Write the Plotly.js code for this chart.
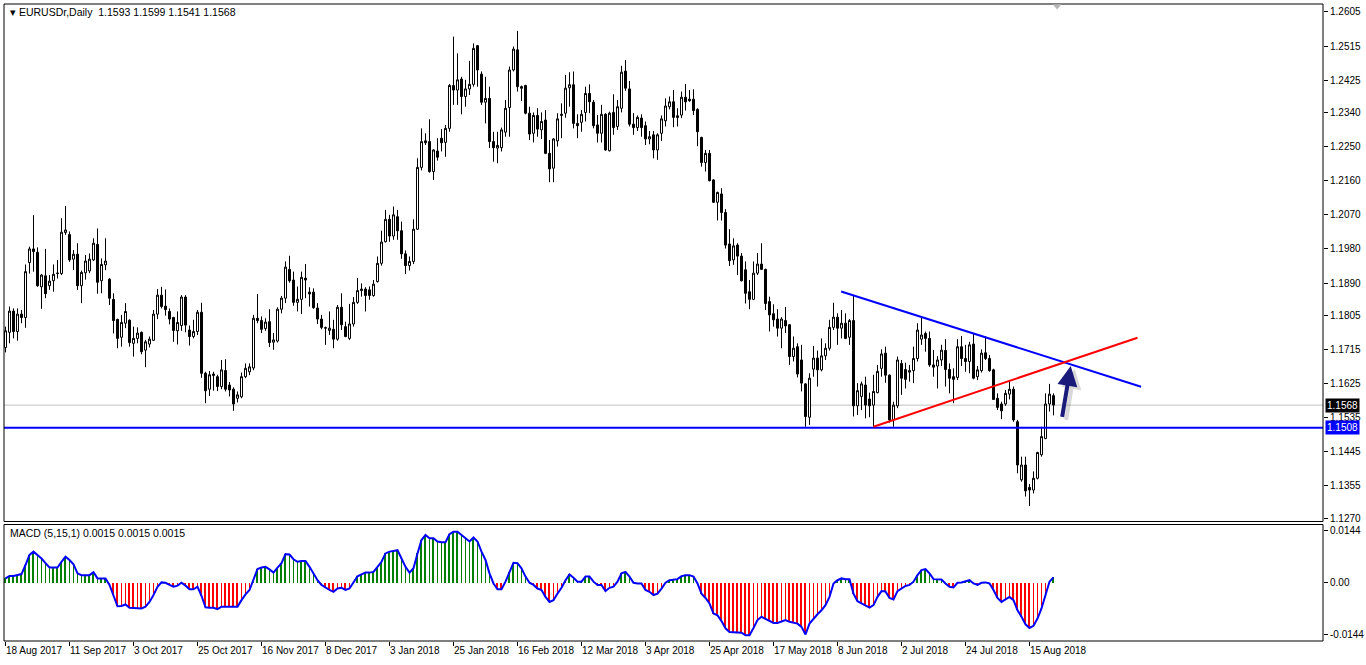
<!DOCTYPE html>
<html>
<head>
<meta charset="utf-8">
<script src="https://cdn.plot.ly/plotly-3.0.1.min.js"></script>
<style>html,body{margin:0;padding:0;background:#fff;}#chart{width:1366px;height:665px;}</style>
</head>
<body>
<div id="chart"></div>
<script>
// Daily EURUSD bars, 18 Aug 2017 .. 23 Aug 2018 (one entry per trading day)
const opens = [1.1720,1.1760,1.1816,1.1762,1.1808,1.1799,1.1944,1.1980,1.1971,1.1880,1.1909,1.1883,1.1896,1.1915,1.1915,1.2023,1.2018,1.1953,1.1966,1.1883,1.1917,1.1922,1.1951,1.1992,1.1896,1.1938,1.1900,1.1847,1.1794,1.1747,1.1784,1.1792,1.1731,1.1744,1.1760,1.1713,1.1729,1.1739,1.1808,1.1858,1.1829,1.1815,1.1799,1.1764,1.1778,1.1853,1.1766,1.1749,1.1762,1.1813,1.1652,1.1610,1.1646,1.1643,1.1617,1.1659,1.1621,1.1610,1.1586,1.1590,1.1643,1.1656,1.1666,1.1797,1.1791,1.1770,1.1788,1.1734,1.1737,1.1821,1.1850,1.1926,1.1898,1.1839,1.1847,1.1903,1.1866,1.1866,1.1824,1.1795,1.1771,1.1765,1.1768,1.1742,1.1826,1.1775,1.1744,1.1782,1.1839,1.1870,1.1874,1.1872,1.1857,1.1894,1.1942,1.1999,1.2058,1.2014,1.2065,1.2028,1.1967,1.1936,1.1947,1.2032,1.2195,1.2265,1.2263,1.2184,1.2238,1.2272,1.2261,1.2298,1.2411,1.2399,1.2428,1.2382,1.2402,1.2414,1.2516,1.2441,1.2367,1.2377,1.2263,1.2246,1.2247,1.2288,1.2353,1.2452,1.2505,1.2408,1.2411,1.2338,1.2285,1.2332,1.2294,1.2320,1.2232,1.2193,1.2265,1.2332,1.2338,1.2405,1.2413,1.2311,1.2314,1.2340,1.2390,1.2367,1.2307,1.2285,1.2335,1.2239,1.2340,1.2303,1.2351,1.2449,1.2402,1.2309,1.2300,1.2325,1.2305,1.2270,1.2281,1.2241,1.2285,1.2318,1.2355,1.2368,1.2331,1.2333,1.2380,1.2375,1.2375,1.2348,1.2274,1.2208,1.2232,1.2162,1.2103,1.2125,1.2076,1.1993,1.1951,1.1990,1.1961,1.1925,1.1867,1.1847,1.1916,1.1940,1.1926,1.1841,1.1809,1.1795,1.1771,1.1791,1.1780,1.1696,1.1722,1.1687,1.1624,1.1536,1.1663,1.1692,1.1661,1.1698,1.1718,1.1773,1.1800,1.1771,1.1784,1.1747,1.1791,1.1566,1.1591,1.1621,1.1584,1.1568,1.1601,1.1665,1.1705,1.1647,1.1529,1.1566,1.1678,1.1662,1.1655,1.1659,1.1691,1.1742,1.1757,1.1744,1.1674,1.1671,1.1687,1.1712,1.1662,1.1643,1.1641,1.1722,1.1691,1.1683,1.1729,1.1643,1.1659,1.1706,1.1691,1.1661,1.1586,1.1571,1.1571,1.1597,1.1610,1.1524,1.1371,1.1410,1.1351,1.1344,1.1375,1.1437,1.1480,1.1571,1.1593];
const highs = [1.1775,1.1828,1.1823,1.1823,1.1819,1.1939,1.1986,1.2069,1.1984,1.1914,1.1980,1.1911,1.1939,1.1951,1.2061,1.2093,1.2026,1.1977,1.1995,1.1923,1.1964,1.1968,1.2008,1.2034,1.1955,1.2008,1.1903,1.1863,1.1796,1.1806,1.1837,1.1794,1.1775,1.1773,1.1762,1.1740,1.1749,1.1819,1.1874,1.1880,1.1873,1.1823,1.1801,1.1815,1.1858,1.1858,1.1778,1.1793,1.1819,1.1838,1.1656,1.1658,1.1656,1.1648,1.1687,1.1689,1.1629,1.1615,1.1604,1.1654,1.1678,1.1678,1.1806,1.1861,1.1802,1.1797,1.1821,1.1758,1.1826,1.1856,1.1947,1.1962,1.1920,1.1881,1.1920,1.1940,1.1879,1.1876,1.1837,1.1806,1.1775,1.1815,1.1793,1.1832,1.1863,1.1788,1.1835,1.1853,1.1903,1.1889,1.1879,1.1881,1.1898,1.1960,1.2028,1.2083,1.2070,1.2092,1.2083,1.2052,1.1976,1.1960,1.2058,1.2219,1.2298,1.2285,1.2322,1.2243,1.2272,1.2296,1.2307,1.2415,1.2540,1.2496,1.2434,1.2426,1.2476,1.2522,1.2518,1.2448,1.2434,1.2408,1.2289,1.2289,1.2300,1.2373,1.2461,1.2514,1.2555,1.2411,1.2413,1.2355,1.2340,1.2351,1.2340,1.2346,1.2267,1.2272,1.2338,1.2364,1.2439,1.2446,1.2448,1.2335,1.2346,1.2408,1.2414,1.2373,1.2333,1.2360,1.2338,1.2342,1.2388,1.2373,1.2463,1.2478,1.2423,1.2338,1.2332,1.2335,1.2316,1.2291,1.2291,1.2285,1.2332,1.2377,1.2382,1.2399,1.2351,1.2395,1.2415,1.2399,1.2401,1.2351,1.2276,1.2241,1.2241,1.2164,1.2131,1.2140,1.2085,1.2032,1.2008,1.1995,1.1969,1.1947,1.1898,1.1947,1.1969,1.1995,1.1928,1.1854,1.1834,1.1821,1.1800,1.1827,1.1782,1.1749,1.1731,1.1727,1.1626,1.1652,1.1724,1.1712,1.1744,1.1731,1.1793,1.1838,1.1810,1.1819,1.1810,1.1795,1.1856,1.1626,1.1630,1.1643,1.1601,1.1648,1.1674,1.1715,1.1722,1.1649,1.1577,1.1696,1.1687,1.1680,1.1674,1.1722,1.1784,1.1801,1.1762,1.1762,1.1713,1.1697,1.1727,1.1742,1.1678,1.1665,1.1742,1.1750,1.1727,1.1735,1.1757,1.1671,1.1715,1.1749,1.1700,1.1664,1.1599,1.1577,1.1608,1.1634,1.1617,1.1529,1.1432,1.1432,1.1360,1.1393,1.1445,1.1511,1.1599,1.1624,1.1599];
const lows = [1.1707,1.1731,1.1744,1.1738,1.1784,1.1772,1.1915,1.1920,1.1880,1.1822,1.1850,1.1872,1.1867,1.1902,1.1911,1.2017,1.1946,1.1924,1.1872,1.1837,1.1899,1.1916,1.1948,1.1862,1.1863,1.1924,1.1832,1.1757,1.1718,1.1722,1.1771,1.1722,1.1696,1.1731,1.1702,1.1668,1.1720,1.1737,1.1795,1.1823,1.1804,1.1781,1.1735,1.1728,1.1764,1.1760,1.1725,1.1744,1.1753,1.1640,1.1573,1.1592,1.1606,1.1605,1.1610,1.1604,1.1591,1.1553,1.1575,1.1586,1.1639,1.1647,1.1660,1.1784,1.1758,1.1764,1.1721,1.1714,1.1733,1.1810,1.1837,1.1891,1.1830,1.1815,1.1808,1.1850,1.1828,1.1822,1.1782,1.1768,1.1727,1.1753,1.1718,1.1738,1.1766,1.1747,1.1740,1.1775,1.1835,1.1854,1.1815,1.1846,1.1854,1.1891,1.1936,1.1997,1.1999,1.2004,1.2004,1.1954,1.1914,1.1923,1.1940,1.2030,1.2187,1.2254,1.2181,1.2162,1.2213,1.2237,1.2223,1.2289,1.2360,1.2360,1.2335,1.2355,1.2386,1.2408,1.2408,1.2360,1.2311,1.2246,1.2210,1.2206,1.2237,1.2276,1.2276,1.2448,1.2395,1.2370,1.2335,1.2267,1.2261,1.2276,1.2270,1.2230,1.2156,1.2156,1.2250,1.2272,1.2326,1.2355,1.2298,1.2272,1.2289,1.2316,1.2338,1.2298,1.2261,1.2261,1.2239,1.2237,1.2281,1.2294,1.2340,1.2397,1.2303,1.2281,1.2291,1.2276,1.2254,1.2256,1.2219,1.2215,1.2265,1.2303,1.2348,1.2301,1.2303,1.2325,1.2345,1.2368,1.2333,1.2251,1.2197,1.2184,1.2158,1.2101,1.2055,1.2055,1.1981,1.1935,1.1938,1.1911,1.1894,1.1836,1.1821,1.1845,1.1911,1.1925,1.1819,1.1762,1.1775,1.1749,1.1718,1.1758,1.1674,1.1683,1.1641,1.1604,1.1511,1.1516,1.1643,1.1617,1.1657,1.1687,1.1712,1.1766,1.1727,1.1744,1.1742,1.1727,1.1538,1.1542,1.1555,1.1533,1.1536,1.1511,1.1599,1.1643,1.1627,1.1522,1.1511,1.1560,1.1595,1.1612,1.1630,1.1626,1.1683,1.1727,1.1709,1.1669,1.1643,1.1612,1.1671,1.1617,1.1599,1.1573,1.1634,1.1671,1.1656,1.1652,1.1636,1.1634,1.1654,1.1687,1.1656,1.1582,1.1555,1.1531,1.1566,1.1583,1.1524,1.1388,1.1366,1.1327,1.1302,1.1335,1.1372,1.1432,1.1478,1.1551,1.1541];
const closes = [1.1764,1.1816,1.1762,1.1808,1.1799,1.1920,1.1980,1.1973,1.1883,1.1911,1.1862,1.1895,1.1913,1.1916,1.2024,1.2030,1.1951,1.1966,1.1883,1.1918,1.1948,1.1953,1.1995,1.1892,1.1939,1.1948,1.1850,1.1791,1.1744,1.1786,1.1815,1.1733,1.1744,1.1758,1.1709,1.1735,1.1742,1.1808,1.1858,1.1828,1.1820,1.1795,1.1765,1.1786,1.1853,1.1779,1.1749,1.1762,1.1813,1.1652,1.1606,1.1648,1.1650,1.1617,1.1661,1.1610,1.1608,1.1571,1.1595,1.1643,1.1665,1.1669,1.1797,1.1791,1.1768,1.1787,1.1733,1.1740,1.1821,1.1850,1.1932,1.1896,1.1839,1.1847,1.1905,1.1898,1.1861,1.1825,1.1795,1.1773,1.1772,1.1771,1.1742,1.1826,1.1780,1.1749,1.1782,1.1839,1.1870,1.1874,1.1857,1.1857,1.1887,1.1942,1.1998,1.2058,1.2014,1.2070,1.2028,1.1967,1.1936,1.1947,1.2032,1.2195,1.2263,1.2260,1.2184,1.2241,1.2222,1.2260,1.2298,1.2411,1.2399,1.2426,1.2382,1.2402,1.2414,1.2509,1.2452,1.2367,1.2377,1.2263,1.2247,1.2253,1.2294,1.2351,1.2452,1.2507,1.2408,1.2404,1.2338,1.2283,1.2332,1.2296,1.2316,1.2232,1.2191,1.2270,1.2323,1.2335,1.2404,1.2413,1.2311,1.2305,1.2335,1.2390,1.2368,1.2305,1.2285,1.2335,1.2241,1.2338,1.2300,1.2355,1.2446,1.2404,1.2309,1.2300,1.2327,1.2300,1.2270,1.2276,1.2241,1.2281,1.2323,1.2357,1.2368,1.2327,1.2327,1.2380,1.2368,1.2371,1.2345,1.2289,1.2208,1.2232,1.2160,1.2103,1.2129,1.2076,1.1990,1.1949,1.1988,1.1961,1.1896,1.1863,1.1847,1.1916,1.1940,1.1926,1.1836,1.1806,1.1793,1.1771,1.1795,1.1777,1.1696,1.1718,1.1650,1.1626,1.1538,1.1639,1.1692,1.1661,1.1698,1.1718,1.1773,1.1800,1.1771,1.1784,1.1744,1.1791,1.1566,1.1606,1.1624,1.1568,1.1566,1.1604,1.1657,1.1703,1.1647,1.1529,1.1568,1.1687,1.1639,1.1636,1.1659,1.1691,1.1766,1.1753,1.1744,1.1674,1.1668,1.1687,1.1713,1.1662,1.1639,1.1636,1.1722,1.1691,1.1683,1.1727,1.1639,1.1661,1.1705,1.1691,1.1659,1.1583,1.1562,1.1553,1.1599,1.1610,1.1529,1.1410,1.1410,1.1342,1.1344,1.1375,1.1443,1.1485,1.1571,1.1597,1.1568];
// MACD (5,15,1) histogram value per bar
const macd = [0.0012,0.0019,0.0019,0.0021,0.0024,0.0049,0.0077,0.0086,0.0077,0.0067,0.0054,
0.0042,0.0042,0.0042,0.0058,0.0072,0.0063,0.0051,0.0026,0.0021,0.0021,
0.0021,0.0029,0.0012,0.0012,0.0012,-0.0006,-0.0034,-0.0065,-0.0064,-0.0060,
-0.0069,-0.0070,-0.0069,-0.0071,-0.0066,-0.0053,-0.0034,-0.0011,0.0001,0.0000,
-0.0006,-0.0011,-0.0008,0.0000,-0.0008,-0.0018,-0.0018,-0.0011,-0.0036,-0.0068,
-0.0069,-0.0069,-0.0073,-0.0066,-0.0066,-0.0066,-0.0066,-0.0066,-0.0048,-0.0032,
-0.0020,0.0012,0.0038,0.0042,0.0044,0.0037,0.0028,0.0042,0.0054,0.0079,
0.0078,0.0065,0.0058,0.0060,0.0060,0.0044,0.0026,0.0007,-0.0006,-0.0014,
-0.0020,-0.0025,-0.0016,-0.0014,-0.0020,-0.0016,0.0003,0.0018,0.0023,0.0028,
0.0028,0.0030,0.0044,0.0058,0.0081,0.0086,0.0088,0.0090,0.0067,0.0044,
0.0028,0.0040,0.0081,0.0118,0.0132,0.0123,0.0123,0.0114,0.0112,0.0112,
0.0134,0.0141,0.0141,0.0132,0.0123,0.0114,0.0125,0.0114,0.0086,0.0063,
0.0026,-0.0002,-0.0018,-0.0018,0.0003,0.0030,0.0055,0.0054,0.0040,0.0017,
0.0000,-0.0006,-0.0016,-0.0020,-0.0039,-0.0053,-0.0048,-0.0030,-0.0014,0.0007,
0.0023,0.0014,0.0003,0.0003,0.0017,0.0017,0.0003,-0.0006,-0.0006,-0.0023,
-0.0014,-0.0011,0.0003,0.0026,0.0030,0.0017,0.0000,-0.0002,-0.0002,-0.0020,
-0.0025,-0.0034,-0.0030,-0.0016,0.0000,0.0007,0.0009,0.0010,0.0018,0.0021,
0.0021,0.0017,-0.0002,-0.0030,-0.0042,-0.0057,-0.0085,-0.0090,-0.0106,-0.0126,
-0.0136,-0.0136,-0.0136,-0.0138,-0.0145,-0.0145,-0.0125,-0.0103,-0.0094,-0.0099,
-0.0106,-0.0111,-0.0111,-0.0106,-0.0103,-0.0108,-0.0111,-0.0113,-0.0122,-0.0143,
-0.0113,-0.0099,-0.0087,-0.0076,-0.0062,-0.0039,-0.0002,0.0007,0.0012,0.0010,
0.0010,-0.0030,-0.0051,-0.0057,-0.0062,-0.0069,-0.0062,-0.0039,-0.0023,-0.0024,
-0.0042,-0.0046,-0.0023,-0.0016,-0.0009,-0.0006,0.0003,0.0021,0.0035,0.0038,
0.0026,0.0010,0.0010,0.0009,-0.0002,-0.0011,-0.0013,0.0000,0.0001,0.0003,
0.0007,-0.0002,-0.0006,0.0000,0.0001,-0.0002,-0.0020,-0.0042,-0.0053,-0.0046,
-0.0039,-0.0048,-0.0076,-0.0094,-0.0115,-0.0125,-0.0119,-0.0099,-0.0071,-0.0034,0.0003,0.0015];
// date labels, one every 16 bars
const dateLabels = ['18 Aug 2017','11 Sep 2017','3 Oct 2017','25 Oct 2017','16 Nov 2017','8 Dec 2017','3 Jan 2018','25 Jan 2018','16 Feb 2018','12 Mar 2018','3 Apr 2018','25 Apr 2018','17 May 2018','8 Jun 2018','2 Jul 2018','24 Jul 2018','15 Aug 2018'];
const priceTicks = [1.2605,1.2515,1.2425,1.2340,1.2250,1.2160,1.2070,1.1980,1.1890,1.1805,1.1715,1.1625,1.1535,1.1445,1.1355,1.1270];
const macdTicks = [0.0144,0,-0.0144];
const macdTickText = ['0.0144','0.00','-0.0144'];
// drawn objects (bar index, price)
const supportLevel = 1.1508;
const bidLevel = 1.1568;
const upperTrend = [[208.9,1.18677],[283.9,1.16165]];
const lowerTrend = [[217.0,1.15110],[283.0,1.17458]];
const arrowPts = [[264.1,1.15332],[266.3,1.16712]];

const idx = closes.map((_, i) => i);
const FONT = 'Liberation Sans, Arial, sans-serif';

const barColors = macd.map(v => v >= 0 ? '#008000' : '#FF0000');
const isThick = macd.map((v, i) => i === 0 || Math.abs(v) >= Math.abs(macd[i-1]));
const barWidths = isThick.map(t => t ? 0.5 : 0.25);
const barOffsets = isThick.map(t => t ? -0.375 : -0.125);

const traces = [
  {type:'candlestick', x:idx, open:opens, high:highs, low:lows, close:closes,
   xaxis:'x', yaxis:'y', hoverinfo:'skip', whiskerwidth:0,
   increasing:{line:{color:'#000000', width:1}, fillcolor:'#FFFFFF'},
   decreasing:{line:{color:'#000000', width:1}, fillcolor:'#000000'}},
  {type:'bar', x:idx, y:macd, width:barWidths, offset:barOffsets, marker:{color:barColors, line:{width:0}},
   xaxis:'x', yaxis:'y2', hoverinfo:'skip'},
  {type:'scatter', mode:'lines', x:idx, y:macd, line:{color:'#0000FF', width:2},
   xaxis:'x', yaxis:'y2', hoverinfo:'skip'}
];

const mainBot = 521.5, subTop = 524.5, plotBot = 641, H = 637, W = 1319;
const py = p => 1 - (p - 4) / H;   // pixel row -> paper y
const px = p => (p - 4) / W;       // pixel col -> paper x

const shapes = [
  {type:'line', xref:'paper', x0:0, x1:1, yref:'y', y0:bidLevel, y1:bidLevel, line:{color:'#C0C0C0', width:1}, layer:'below'},
  {type:'line', xref:'paper', x0:0, x1:1, yref:'y', y0:supportLevel, y1:supportLevel, line:{color:'#0000FF', width:2}},
  {type:'line', xref:'x', yref:'y', x0:upperTrend[0][0], y0:upperTrend[0][1], x1:upperTrend[1][0], y1:upperTrend[1][1], line:{color:'#0000FF', width:2}},
  {type:'line', xref:'x', yref:'y', x0:lowerTrend[0][0], y0:lowerTrend[0][1], x1:lowerTrend[1][0], y1:lowerTrend[1][1], line:{color:'#FF0000', width:2}},
  {type:'rect', xref:'paper', yref:'y domain', x0:0, x1:1, y0:0, y1:1, line:{color:'#000', width:1}},
  {type:'rect', xref:'paper', yref:'y2 domain', x0:0, x1:1, y0:0, y1:1, line:{color:'#000', width:1}},
  {type:'path', xref:'x', yref:'paper', path:'M 261.8 0.9995 L 264.0 0.9995 L 262.9 0.9915 Z', fillcolor:'#B4B4B4', line:{width:0}}
];

const labelFont = {family:FONT, size:10.5, color:'#000'};
const annotations = [
  {xref:'paper', yref:'paper', x:px(8), y:py(12), xanchor:'left', yanchor:'middle', showarrow:false,
   text:'▾ EURUSDr,Daily  1.1593 1.1599 1.1541 1.1568', font:labelFont},
  {xref:'paper', yref:'paper', x:px(8), y:py(533), xanchor:'left', yanchor:'middle', showarrow:false,
   text:'MACD (5,15,1) 0.0015 0.0015 0.0015', font:labelFont},
  {xref:'paper', yref:'y', x:1, xshift:2, y:bidLevel, xanchor:'left', yanchor:'middle', showarrow:false,
   text:'1.1568', bgcolor:'#000000', borderpad:1, font:{family:FONT, size:10, color:'#FFFFFF'}},
  {xref:'paper', yref:'y', x:1, xshift:2, y:supportLevel, xanchor:'left', yanchor:'middle', showarrow:false,
   text:'1.1508', bgcolor:'#0000FF', borderpad:1, font:{family:FONT, size:10, color:'#FFFFFF'}},
  {xref:'x', yref:'y', x:arrowPts[1][0], y:arrowPts[1][1], axref:'x', ayref:'y', ax:arrowPts[0][0], ay:arrowPts[0][1],
   xshift:4, yshift:-3, showarrow:true, text:'', arrowhead:2, arrowsize:1.0, arrowwidth:4, arrowcolor:'rgba(0,0,0,0.15)', standoff:0},
  {xref:'x', yref:'y', x:arrowPts[1][0], y:arrowPts[1][1], axref:'x', ayref:'y', ax:arrowPts[0][0], ay:arrowPts[0][1],
   showarrow:true, text:'', arrowhead:2, arrowsize:1.0, arrowwidth:4, arrowcolor:'#1A1A7A', standoff:0}
];

const axFont = {family:FONT, size:10, color:'#000'};
const layout = {
  width:1366, height:665, margin:{l:4, r:43, t:4, b:24, pad:0},
  paper_bgcolor:'#FFFFFF', plot_bgcolor:'#FFFFFF', showlegend:false,
  boxgap:0.5, boxgroupgap:0,
  xaxis:{anchor:'y2', range:[-0.375, 329.375], tickmode:'array',
         tickvals:dateLabels.map((_, k) => k * 16), ticktext:dateLabels, tickangle:0,
         ticks:'outside', ticklen:4, tickcolor:'#000', tickwidth:1, ticklabelposition:'outside right',
         tickfont:axFont, showgrid:false, zeroline:false, showline:false,
         rangeslider:{visible:false}, fixedrange:true},
  yaxis:{domain:[(plotBot - mainBot) / H, 1], side:'right', range:[1.1261, 1.2626],
         tickmode:'array', tickvals:priceTicks, ticktext:priceTicks.map(v => v.toFixed(4)),
         ticks:'outside', ticklen:4, tickcolor:'#000', tickfont:axFont,
         showgrid:false, zeroline:false, showline:false, fixedrange:true},
  yaxis2:{domain:[0, (plotBot - subTop) / H], side:'right', range:[-0.0161, 0.0161],
          tickmode:'array', tickvals:macdTicks, ticktext:macdTickText,
          ticks:'outside', ticklen:4, tickcolor:'#000', tickfont:axFont,
          showgrid:false, zeroline:false, showline:false, fixedrange:true},
  shapes:shapes, annotations:annotations, bargap:0
};

Plotly.newPlot('chart', traces, layout, {staticPlot:true, displayModeBar:false});
</script>
</body>
</html>
